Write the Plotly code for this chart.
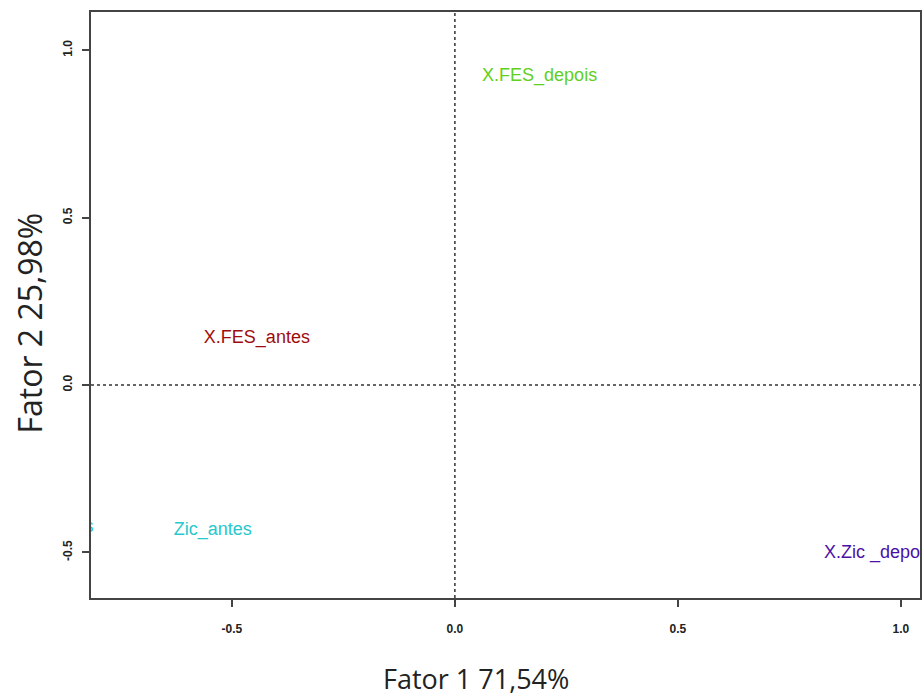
import plotly.graph_objects as go

labels = ["X.FES_depois", "X.FES_antes", "Zic_antes", "X.Zic _depois", "X.Zic_antes"]
fator1 = [0.19, -0.444, -0.543, 0.95, -0.917]
fator2 = [0.92, 0.14, -0.433, -0.502, -0.425]
colors = ["#5fd020", "#a00c0c", "#28c8cc", "#4a10a8", "#28c8cc"]

x_ticks = [-0.5, 0.0, 0.5, 1.0]
y_ticks = [-0.5, 0.0, 0.5, 1.0]
x_range = [-0.816, 1.043]
y_range = [-0.636, 1.114]

fig = go.Figure()
for lab, x, y, c in zip(labels, fator1, fator2, colors):
    fig.add_trace(go.Scatter(
        x=[x], y=[y], mode="text", text=[lab],
        textfont=dict(family="Liberation Sans, Arial", size=18, color=c),
        cliponaxis=True, showlegend=False, hoverinfo="skip"))

fig.add_shape(type="line", x0=0, x1=0, y0=0, y1=1, yref="paper",
              line=dict(color="#333", width=1.5, dash="dot"))
fig.add_shape(type="line", y0=0, y1=0, x0=0, x1=1, xref="paper",
              line=dict(color="#333", width=1.5, dash="dot"))

axis_common = dict(showgrid=False, zeroline=False, showline=True, mirror=True,
                   linecolor="#444", linewidth=2, ticks="outside", ticklen=7,
                   tickwidth=1.5, tickcolor="#444", automargin=False,
                   tickfont=dict(family="Liberation Sans, Arial", size=12, color="#222",
                                 weight="bold"))

fig.update_xaxes(range=x_range, tickvals=x_ticks, ticktext=[f"{v:.1f}" for v in x_ticks],
                 ticklabelstandoff=12, **axis_common)
fig.update_yaxes(range=y_range, tickvals=y_ticks, ticktext=[f"{v:.1f}" for v in y_ticks],
                 tickangle=-90, ticklabelstandoff=5, **axis_common)

fig.add_annotation(text="Fator 1 71,54%", xref="paper", yref="paper",
                   x=0.4644, y=-0.137, xanchor="center", yanchor="middle",
                   showarrow=False,
                   font=dict(family="Open Sans", size=27, color="#222"))
fig.add_annotation(text="Fator 2 25,98%", xref="paper", yref="paper",
                   x=-0.0736, y=0.47, xanchor="center", yanchor="middle",
                   textangle=-90, showarrow=False,
                   font=dict(family="Open Sans", size=32, color="#222"))

fig.update_layout(width=922, height=697, plot_bgcolor="white", paper_bgcolor="white",
                  margin=dict(l=91, r=2, t=12, b=99))

fig.write_html("out.html", config={"displayModeBar": False},
               post_script="document.body.style.margin='0';document.body.style.overflow='hidden';")
